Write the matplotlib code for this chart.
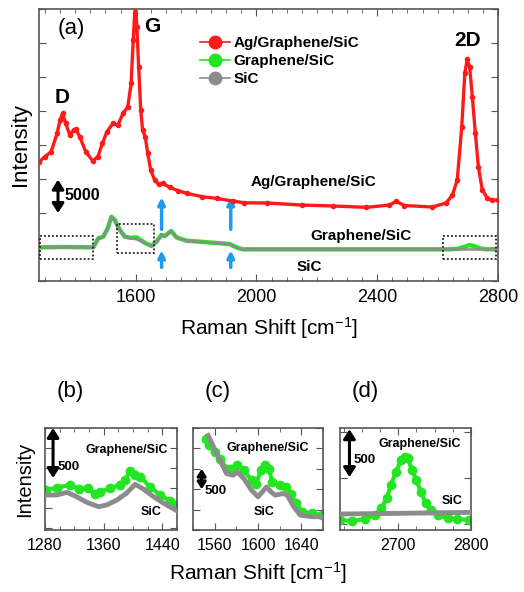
import matplotlib
matplotlib.use("Agg")
import matplotlib.pyplot as plt
from matplotlib.lines import Line2D
from matplotlib.patches import Rectangle
from matplotlib.ticker import MultipleLocator

plt.rcParams['font.family'] = ['Liberation Sans', 'DejaVu Sans']
plt.rcParams['mathtext.default'] = 'regular'

RED = '#FF1A1A'
GREEN = '#22E622'
GRAY = '#8C8C8C'
BLUE = '#1E9BEF'

# ---- panel (a): full spectra ----
ag_x = [1280, 1300, 1320, 1340, 1350, 1358, 1368, 1382, 1395, 1402, 1415, 1435, 1458,
        1475, 1490, 1505, 1525, 1541, 1558, 1574, 1585, 1592, 1597, 1600, 1604, 1610,
        1617, 1623, 1632, 1640, 1650, 1663, 1676, 1690, 1713, 1740, 1769, 1820, 1868,
        1922, 1960, 2034, 2150, 2254, 2364, 2440, 2463, 2490, 2583, 2628, 2649, 2665,
        2680, 2690, 2698, 2706, 2715, 2725, 2735, 2748, 2765, 2780, 2800]
ag_y = [17500, 18300, 19000, 21700, 23700, 24650, 23200, 21500, 22200, 22350, 21200,
        19000, 17650, 18300, 20250, 21950, 23200, 22900, 24650, 25600, 29050, 35400,
        39350, 40500, 37400, 31500, 25100, 22200, 21200, 18800, 16300, 14850, 14200,
        14350, 13770, 13280, 12900, 12400, 12150, 11760, 11500, 11470, 11170, 11030,
        10830, 11170, 11710, 11100, 10880, 11470, 12640, 14850, 22680, 30530, 32590,
        31500, 27090, 21710, 16800, 13380, 12150, 11900, 11900]

gr_x = [1280, 1350, 1420, 1460, 1476, 1493, 1508, 1520, 1531, 1548, 1564, 1585, 1603,
        1630, 1652, 1669, 1685, 1697, 1707, 1718, 1735, 1768, 1856, 1911, 1933, 1955,
        2077, 2300, 2500, 2640, 2670, 2690, 2705, 2720, 2740, 2760, 2800]
gr_y = [4950, 5000, 4980, 4950, 6270, 6520, 7800, 9450, 8970, 7500, 6520, 6350, 6420,
        5630, 5150, 5780, 6760, 6620, 7010, 7350, 6420, 5930, 5630, 5440, 4950, 4660,
        4660, 4660, 4660, 4660, 4750, 5050, 5290, 5150, 4800, 4660, 4660]
sic_y = [4900, 4930, 4920, 4900, 6250, 6500, 7780, 9400, 8950, 7480, 6480, 6250, 6130,
         5600, 5130, 5760, 6740, 6600, 6990, 7330, 6400, 5910, 5610, 5420, 4930, 4640,
         4640, 4640, 4640, 4640, 4640, 4640, 4640, 4640, 4640, 4640, 4640]

# zoom windows marked in (a): (x0, x1, y0, y1)
boxes = [(1282, 1460, 3230, 6600), (1538, 1660, 4100, 8400), (2617, 2795, 3230, 6600)]
arrow_x = [1686, 1915]

# ---- panel (b) ----
b_gx = [1282, 1296, 1314, 1327, 1339, 1348, 1355, 1368, 1382, 1389, 1396, 1403, 1410,
        1423, 1437, 1451, 1460]
b_gy = [380, 403, 430, 390, 403, 340, 360, 397, 430, 480, 570, 530, 513, 413, 330, 267, 230]
b_sx = [1282, 1296, 1310, 1323, 1337, 1353, 1364, 1378, 1391, 1403, 1414, 1428, 1442, 1458]
b_sy = [330, 330, 357, 313, 257, 213, 230, 280, 347, 437, 390, 313, 247, 180]

# ---- panel (c) ----
c_gx = [1552, 1555, 1560, 1565, 1571, 1575, 1581, 1587, 1594, 1598, 1603, 1606, 1610,
        1613, 1620, 1626, 1630, 1635, 1641, 1650, 1659]
c_gy = [2237, 2074, 1911, 1749, 1505, 1505, 1586, 1464, 1220, 1139, 1464, 1586, 1505,
        1179, 1098, 1057, 894, 651, 447, 407, 366]
c_sx = [1554, 1559, 1565, 1571, 1577, 1581, 1587, 1594, 1600, 1604, 1608, 1612, 1616,
        1623, 1627, 1633, 1639, 1650, 1659]
c_sy = [2318, 2033, 1708, 1383, 1342, 1423, 1261, 976, 813, 935, 1057, 935, 854, 894,
        854, 569, 366, 325, 325]

# ---- panel (d) ----
d_gx = [2620, 2636, 2654, 2668, 2677, 2684, 2690, 2697, 2704, 2709, 2713, 2719, 2725,
        2731, 2738, 2745, 2754, 2768, 2781, 2797]
d_gy = [44, 33, 55, 98, 171, 280, 424, 569, 696, 732, 714, 587, 478, 351, 225, 152, 98,
        62, 55, 44]
d_sx = [2620, 2700, 2800]
d_sy = [109, 116, 127]

fig = plt.figure(figsize=(5.24, 5.92), dpi=100)


def style(ax, fs):
    for s in ax.spines.values():
        s.set_color('#555555')
        s.set_linewidth(1.2)
    ax.tick_params(which='both', direction='in', top=True, right=True,
                   color='#555555', labelsize=fs, pad=6)
    ax.tick_params(which='major', length=5)
    ax.tick_params(which='minor', length=3)
    ax.set_yticklabels([])


def arrow(ax, x, y0, y1, style_, color, ms, lw=2.2):
    ax.annotate('', xy=(x, y1), xytext=(x, y0),
                arrowprops=dict(arrowstyle=style_, color=color, lw=lw,
                                mutation_scale=ms, shrinkA=0, shrinkB=0))


DOUBLE = '<|-|>,head_length=0.5,head_width=0.32'

# (a)
ax = fig.add_axes([39 / 524, 1 - 281 / 592, 459 / 524, 272 / 592])
ax.plot(gr_x, gr_y, color=GREEN, lw=3.2, zorder=2)
ax.plot(gr_x, sic_y, color=GRAY, lw=1.8, zorder=3)
ax.plot(ag_x, ag_y, color=RED, lw=2.4, marker='o', ms=3, zorder=4)
ax.set_xlim(1280, 2800)
ax.set_ylim(0, 40000)
ax.xaxis.set_major_locator(MultipleLocator(400))
ax.xaxis.set_minor_locator(MultipleLocator(50))
ax.yaxis.set_major_locator(MultipleLocator(5000))
style(ax, 13)
ax.set_xlabel('Raman Shift [cm$^{-1}$]', fontsize=15, labelpad=6)
ax.set_ylabel('Intensity', fontsize=16, labelpad=0)

for x0, x1, y0, y1 in boxes:
    ax.add_patch(Rectangle((x0, y0), x1 - x0, y1 - y0, fill=False, ec='#222222',
                           lw=1.3, ls=(0, (1, 1.2)), zorder=5))
for xa in arrow_x:
    arrow(ax, xa, 7600, 12300, '-|>', BLUE, 10, 2.5)
    arrow(ax, xa, 2000, 4500, '-|>', BLUE, 10, 2.5)
arrow(ax, 1343, 10000, 14900, DOUBLE, 'black', 11)
ax.text(1366, 12500, '5000', fontsize=11.5, fontweight='bold', va='center')
ax.text(0.04, 0.93, '(a)', transform=ax.transAxes, fontsize=16, va='center')
ax.text(1627, 37400, 'G', fontsize=15, fontweight='bold', va='center')
ax.text(1358, 27000, 'D', fontsize=15, fontweight='bold', ha='center', va='center')
ax.text(2700, 35400, '2D', fontsize=15, fontweight='bold', ha='center', va='center')
ax.text(2190, 14500, 'Ag/Graphene/SiC', fontsize=11, fontweight='bold', ha='center', va='center')
ax.text(2345, 6600, 'Graphene/SiC', fontsize=11, fontweight='bold', ha='center', va='center')
ax.text(2175, 2050, 'SiC', fontsize=11, fontweight='bold', ha='center', va='center')

handles = [Line2D([], [], color=c, lw=1.2, marker='o', ms=9) for c in (RED, GREEN, GRAY)]
ax.legend(handles, ['Ag/Graphene/SiC', 'Graphene/SiC', 'SiC'], loc='upper left',
          bbox_to_anchor=(0.32, 0.95), frameon=False, handlelength=2.0,
          handletextpad=0.2, labelspacing=0.25, prop=dict(size=11, weight='bold'))

# (b), (c), (d)
small = [
    ([45, 132], (1280, 1460), (-20, 1000), 20, 200, b_gx, b_gy, b_sx, b_sy, '(b)'),
    ([193, 130], (1540, 1660), (0, 2500), 20, 500, c_gx, c_gy, c_sx, c_sy, '(c)'),
    ([340, 131], (2620, 2800), (-65, 1044), 25, 500, d_gx, d_gy, d_sx, d_sy, '(d)'),
]
axes = []
for pos, xl, yl, minor, ystep, gx, gy, sx, sy, lab in small:
    a = fig.add_axes([pos[0] / 524, 1 - 530 / 592, pos[1] / 524, 102 / 592])
    a.plot(gx, gy, color=GREEN, lw=3, marker='o', ms=6, zorder=2)
    a.plot(sx, sy, color=GRAY, lw=3.5, zorder=3)
    a.set_xlim(*xl)
    a.set_ylim(*yl)
    a.xaxis.set_minor_locator(MultipleLocator(minor))
    a.yaxis.set_major_locator(MultipleLocator(ystep))
    style(a, 11.5)
    fig.text((pos[0] + 12) / 524, 1 - 392 / 592, lab, fontsize=16, va='center')
    axes.append(a)

ab, ac, ad = axes
ab.xaxis.set_major_locator(MultipleLocator(80))
ac.xaxis.set_major_locator(MultipleLocator(40))
ad.xaxis.set_major_locator(MultipleLocator(100))
ab.set_ylabel('Intensity', fontsize=14.5, labelpad=2)

arrow(ab, 1291, 500, 1000, DOUBLE, 'black', 11)
ab.text(1297, 610, '500', fontsize=9.5, fontweight='bold', va='center')
ab.text(1391, 780, 'Graphene/SiC', fontsize=9, fontweight='bold', ha='center', va='center')
ab.text(1425, 160, 'SiC', fontsize=9, fontweight='bold', ha='center', va='center')

arrow(ac, 1548, 1000, 1500, DOUBLE, 'black', 8)
ac.text(1551, 960, '500', fontsize=9.5, fontweight='bold', va='center')
ac.text(1609, 2000, 'Graphene/SiC', fontsize=9, fontweight='bold', ha='center', va='center')
ac.text(1606, 440, 'SiC', fontsize=9, fontweight='bold', ha='center', va='center')

arrow(ad, 2633, 510, 1030, DOUBLE, 'black', 11)
ad.text(2639, 700, '500', fontsize=9.5, fontweight='bold', va='center')
ad.text(2730, 870, 'Graphene/SiC', fontsize=9, fontweight='bold', ha='center', va='center')
ad.text(2774, 250, 'SiC', fontsize=9, fontweight='bold', ha='center', va='center')

fig.text(258 / 524, 1 - 573 / 592, 'Raman Shift [cm$^{-1}$]', fontsize=15,
         ha='center', va='center')

fig.savefig('out.png', dpi=100)
